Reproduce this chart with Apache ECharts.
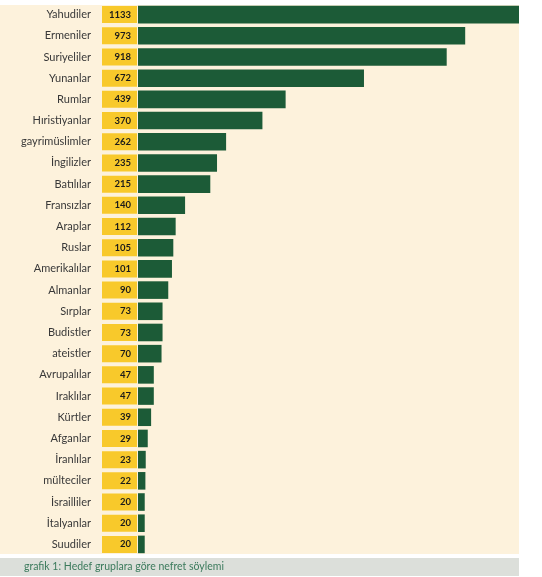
<!DOCTYPE html>
<html>
<head>
<meta charset="utf-8">
<script src="https://cdn.jsdelivr.net/npm/echarts@6/dist/echarts.min.js"></script>
<style>
  html, body { margin: 0; padding: 0; background: #fff; }
  #container { width: 542px; height: 577px; }
</style>
</head>
<body>
<div id="container"></div>
<script>
// hedef gruplar, yukaridan asagiya
var groups = ['Yahudiler', 'Ermeniler', 'Suriyeliler', 'Yunanlar', 'Rumlar', 'Hıristiyanlar',
  'gayrimüslimler', 'İngilizler', 'Batılılar', 'Fransızlar', 'Araplar', 'Ruslar',
  'Amerikalılar', 'Almanlar', 'Sırplar', 'Budistler', 'ateistler', 'Avrupalılar',
  'Iraklılar', 'Kürtler', 'Afganlar', 'İranlılar', 'mülteciler', 'İsrailliler',
  'İtalyanlar', 'Suudiler'];
var counts = [1133, 973, 918, 672, 439, 370, 262, 235, 215, 140, 112, 105, 101, 90,
  73, 73, 70, 47, 47, 39, 29, 23, 22, 20, 20, 20];
var caption = 'grafik 1: Hedef gruplara göre nefret söylemi';

var dom = document.getElementById('container');
var myChart = echarts.init(dom);

var option = {
    animation: false,
    textStyle: { fontFamily: 'Lato' },
    graphic: [
        // krem panel
        { type: 'rect', z: -10, shape: { x: 0, y: 5, width: 519, height: 549 }, style: { fill: '#fdf2dc' } },
        // alt gri serit
        { type: 'rect', z: -10, shape: { x: 0, y: 558, width: 519, height: 18 }, style: { fill: '#dcdfda' } }
    ],
    title: {
        text: caption,
        left: 24,
        top: 561,
        padding: 0,
        textStyle: { fontFamily: 'Lato', fontSize: 10.5, fontWeight: 'normal', color: '#3b7a5c' }
    },
    grid: { left: 138, right: 23, top: 4, bottom: 22 },
    xAxis: {
        type: 'value',
        min: 0,
        max: 1133,
        show: false
    },
    yAxis: {
        type: 'category',
        inverse: true,
        data: groups,
        axisLine: { show: false },
        axisTick: { show: false },
        axisLabel: { margin: 47, fontSize: 11, color: '#383838', fontFamily: 'Lato' }
    },
    series: [
        {
            type: 'bar',
            data: counts,
            barCategoryGap: '17%',
            itemStyle: { color: '#1c5b37' },
            label: {
                show: true,
                position: 'left',
                distance: 1,
                backgroundColor: '#f8c92b',
                width: 29,
                height: 17,
                lineHeight: 17,
                padding: [0, 6, 0, 0],
                align: 'right',
                fontSize: 9.5,
                fontWeight: 'bold',
                fontFamily: 'Lato',
                color: '#1a1a1a'
            }
        }
    ]
};
myChart.setOption(option, true);
</script>
</body>
</html>
